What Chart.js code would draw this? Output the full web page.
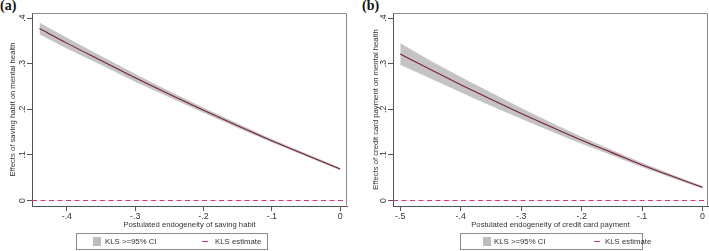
<!DOCTYPE html>
<html><head><meta charset="utf-8">
<script src="https://cdn.jsdelivr.net/npm/chart.js@4"></script>
<style>
html,body{margin:0;padding:0;background:#fff;}
body{width:709px;height:251px;overflow:hidden;position:relative;font-family:"Liberation Sans",Arial,sans-serif;}
.panel{position:absolute;top:0;height:251px;}
.panel canvas{display:block;}
.tag{position:absolute;top:-2px;font-family:"Liberation Serif","Times New Roman",serif;font-weight:bold;font-size:14px;color:#111;}
.legend{position:absolute;top:233px;height:17px;box-sizing:border-box;border:1px solid #8c8c8c;font-size:7.8px;color:#333;}
.legend .sq{position:absolute;top:3px;width:8px;height:9px;background:#bdbdbd;}
.legend .dash{position:absolute;top:7px;width:6px;height:1.4px;background:#d8365e;}
.legend .lab{position:absolute;top:3px;line-height:9px;white-space:nowrap;}
</style>
</head><body>
<div class="tag" style="left:0px;">(a)</div>
<div class="tag" style="left:362px;">(b)</div>
<div class="panel" style="left:0;width:354px;"><canvas id="ca" width="354" height="251"></canvas></div>
<div class="panel" style="left:354px;width:355px;"><canvas id="cb" width="355" height="251"></canvas></div>

<div class="legend" style="left:76px;width:192px;">
  <div class="sq" style="left:16px;"></div><div class="lab" style="left:28px;">KLS &gt;=95% CI</div>
  <div class="dash" style="left:125px;"></div><div class="lab" style="left:138px;">KLS estimate</div>
</div>
<div class="legend" style="left:460px;width:183px;">
  <div class="sq" style="left:22px;"></div><div class="lab" style="left:33px;">KLS &gt;=95% CI</div>
  <div class="dash" style="left:133px;"></div><div class="lab" style="left:144px;">KLS estimate</div>
</div>

<script>
// ---- Panel (a): saving habit ----
const xA    = [-0.44, -0.40, -0.35, -0.30, -0.25, -0.20, -0.15, -0.10, -0.05, 0.00];
const estA  = [0.377, 0.345, 0.307, 0.269, 0.233, 0.198, 0.164, 0.131, 0.100, 0.069];
const loA   = [0.365, 0.334, 0.298, 0.261, 0.227, 0.193, 0.160, 0.128, 0.0975, 0.067];
const hiA   = [0.389, 0.356, 0.316, 0.277, 0.239, 0.203, 0.168, 0.134, 0.1025, 0.071];
const xTicksA = [-0.4, -0.3, -0.2, -0.1, 0];

// ---- Panel (b): credit card payment ----
const xB    = [-0.50, -0.45, -0.40, -0.35, -0.30, -0.25, -0.20, -0.15, -0.10, -0.05, 0.00];
const estB  = [0.321, 0.287, 0.254, 0.222, 0.191, 0.161, 0.132, 0.105, 0.078, 0.053, 0.029];
const loB   = [0.298, 0.268, 0.238, 0.208, 0.180, 0.152, 0.125, 0.100, 0.074, 0.050, 0.027];
const hiB   = [0.344, 0.306, 0.270, 0.236, 0.202, 0.170, 0.139, 0.110, 0.082, 0.056, 0.031];
const xTicksB = [-0.5, -0.4, -0.3, -0.2, -0.1, 0];

const yTicks = [0, 0.1, 0.2, 0.3, 0.4];

const FONT = '"Liberation Sans", Arial, sans-serif';
function pts(xs, ys){ return xs.map((x,i)=>({x:x, y:ys[i]})); }
function fmt(v){ if (Math.abs(v) < 1e-9) return '0'; return String(+v.toFixed(2)).replace('0.', '.'); }

const framePlugin = {
  id:'frame',
  afterDraw(chart){
    const {ctx, chartArea:a} = chart;
    ctx.save();
    ctx.strokeStyle = '#8a8a8a';
    ctx.lineWidth = 1;
    ctx.beginPath();
    ctx.moveTo(Math.round(a.left)+0.5, Math.round(a.top)+0.5);
    ctx.lineTo(Math.round(a.right)-0.5, Math.round(a.top)+0.5);
    ctx.lineTo(Math.round(a.right)-0.5, Math.round(a.bottom)-0.5);
    ctx.stroke();
    ctx.restore();
  }
};

function makeChart(id, xs, est, lo, hi, xTicks, xmin, xmax, xTitle, yTitle, yAxisW, yTitlePad, padRight){
  const common = { pointRadius:0, cubicInterpolationMode:'monotone' };
  return new Chart(document.getElementById(id), {
    type:'line',
    data:{ datasets:[
      Object.assign({ data: pts(xs, est), borderColor:'#7a2230', borderWidth:1.1, fill:false, order:0 }, common),
      { data: [{x:xmin,y:0},{x:xmax,y:0}], borderColor:'#e0365f', borderWidth:1.2, borderDash:[5,3.5], pointRadius:0, fill:false, order:1 },
      Object.assign({ data: pts(xs, hi), borderColor:'#c3c3c3', borderWidth:0.6, backgroundColor:'#c3c3c3', fill:'+1', order:2 }, common),
      Object.assign({ data: pts(xs, lo), borderColor:'#c3c3c3', borderWidth:0.6, fill:false, order:3 }, common)
    ]},
    options:{
      responsive:false, animation:false, devicePixelRatio:1,
      layout:{ padding:{ left:0, top:13, right:padRight, bottom:21 } },
      plugins:{ legend:{display:false}, tooltip:{enabled:false} },
      scales:{
        x:{
          type:'linear', min:xmin, max:xmax,
          afterBuildTicks: s => { s.ticks = xTicks.map(v=>({value:v})); },
          afterFit: s => { s.height = 24; },
          ticks:{ callback: v => fmt(v), font:{family:FONT, size:8.8}, color:'#333', padding:0, maxRotation:0, autoSkip:false },
          grid:{ drawOnChartArea:false, drawTicks:true, tickLength:5, color:'#555', lineWidth:1 },
          border:{ display:true, color:'#555', width:1 },
          title:{ display:true, text:xTitle, font:{family:FONT, size:7.7}, color:'#333', padding:0 }
        },
        y:{
          type:'linear', min:-0.012, max:0.411,
          afterBuildTicks: s => { s.ticks = yTicks.map(v=>({value:v})); },
          afterFit: s => { s.width = yAxisW; },
          ticks:{ callback: v => fmt(v), font:{family:FONT, size:8.8}, color:'#333', padding:1, minRotation:90, maxRotation:90, crossAlign:'center', autoSkip:false },
          grid:{ drawOnChartArea:false, drawTicks:true, tickLength:5, color:'#555', lineWidth:1 },
          border:{ display:true, color:'#555', width:1 },
          title:{ display:true, text:yTitle, font:{family:FONT, size:7.7}, color:'#333', padding:{top:yTitlePad, bottom:0} }
        }
      }
    },
    plugins:[framePlugin]
  });
}

makeChart('ca', xA, estA, loA, hiA, xTicksA, -0.451, 0.010,
  'Postulated endogeneity of saving habit', 'Effects of saving habit on mental health', 32, 8, 7);
makeChart('cb', xB, estB, loB, hiB, xTicksB, -0.512, 0.009,
  'Postulated endogeneity of credit card payment', 'Effects of credit card payment on mental health', 39, 17, 1);
</script>
</body></html>
